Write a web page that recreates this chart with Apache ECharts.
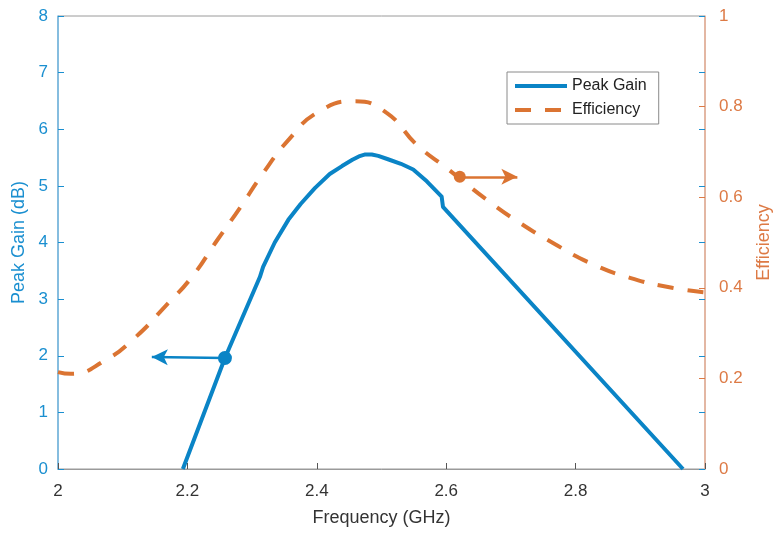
<!DOCTYPE html>
<html lang="en">
<head>
    <meta charset="UTF-8">
    <title>Peak Gain / Efficiency</title>
    <script src="https://cdn.jsdelivr.net/npm/echarts@6/dist/echarts.min.js"></script>
</head>
<body style="margin:0">
<div id="main" style="width:775px;height:536px;"></div>
<script>
    // peak gain (dB) vs frequency (GHz)
    var gainFreq = [2.193, 2.258, 2.312, 2.317, 2.335, 2.356, 2.375, 2.397, 2.42, 2.439, 2.455, 2.465, 2.475, 2.485, 2.495, 2.51, 2.53, 2.549, 2.57, 2.593, 2.595, 2.966];
    var gainVal  = [0, 1.96, 3.39, 3.57, 4.0, 4.40, 4.68, 4.96, 5.21, 5.35, 5.46, 5.52, 5.555, 5.555, 5.53, 5.47, 5.39, 5.29, 5.08, 4.81, 4.63, 0];
    // efficiency vs frequency
    var effFreq = [2.0, 2.02, 2.073, 2.119, 2.165, 2.207, 2.246, 2.281, 2.317, 2.356, 2.402, 2.459, 2.508, 2.555, 2.601, 2.663, 2.714, 2.765, 2.822, 2.884, 2.949, 3.0];
    var effVal  = [0.214, 0.21, 0.24, 0.29, 0.358, 0.424, 0.505, 0.576, 0.653, 0.726, 0.788, 0.812, 0.786, 0.715, 0.664, 0.594, 0.543, 0.499, 0.455, 0.422, 0.40, 0.39];
    var xTicks = [2, 2.2, 2.4, 2.6, 2.8, 3];

    var blue = '#0A84C6', orange = '#DB7432';
    var font = 'Liberation Sans, Arial, sans-serif';

    function pairs(xs, ys) {
        var out = [];
        for (var i = 0; i < xs.length; i++) out.push([xs[i], ys[i]]);
        return out;
    }

    var chart = echarts.init(document.getElementById('main'));
    chart.setOption({
        animation: false,
        textStyle: {fontFamily: font},
        grid: {left: 58, right: 70, top: 16, bottom: 67, outerBoundsMode: 'none', containLabel: false,
            show: true, borderColor: '#9a9a9a', borderWidth: 1},
        legend: {
            left: 507, top: 72, orient: 'vertical',
            backgroundColor: '#fff', borderColor: '#8a8a8a', borderWidth: 1,
            padding: [6, 12, 6, 6], itemGap: 8, itemWidth: 52, itemHeight: 14,
            itemStyle: {opacity: 0},
            lineStyle: {width: 4},
            textStyle: {fontSize: 16, color: '#222', fontFamily: font},
            data: ['Peak Gain', 'Efficiency']
        },
        xAxis: {
            type: 'value', min: 2, max: 3, interval: 0.2,
            name: 'Frequency (GHz)', nameLocation: 'middle', nameGap: 40,
            nameTextStyle: {fontSize: 18, color: '#333'},
            axisLine: {lineStyle: {color: '#9a9a9a'}},
            axisTick: {inside: true, length: 6, lineStyle: {color: '#555'}},
            axisLabel: {fontSize: 17, color: '#333', margin: 14,
                formatter: function (v) { return xTicks.indexOf(+v.toFixed(1)) >= 0 ? String(+v.toFixed(1)) : ''; }},
            splitLine: {show: false}
        },
        yAxis: [{
            type: 'value', min: 0, max: 8, interval: 1, position: 'left',
            name: 'Peak Gain (dB)', nameLocation: 'middle', nameGap: 28,
            nameTextStyle: {fontSize: 18, color: '#1A8FD0'},
            axisLine: {show: true, lineStyle: {color: '#6FB8E6', width: 1.5}},
            axisTick: {show: true, inside: true, length: 6, lineStyle: {color: '#1A8FD0'}},
            axisLabel: {fontSize: 17, color: '#1A8FD0', margin: 10},
            splitLine: {show: false}
        }, {
            type: 'value', min: 0, max: 1, interval: 0.2, position: 'right',
            name: 'Efficiency', nameLocation: 'middle', nameGap: 50,
            nameTextStyle: {fontSize: 18, color: '#DD7A45'},
            axisLine: {show: true, lineStyle: {color: '#EBB096', width: 1.5}},
            axisTick: {show: true, inside: true, length: 6, lineStyle: {color: '#DD7A45'}},
            axisLabel: {fontSize: 17, color: '#DD7A45', margin: 14,
                formatter: function (v) { return v === 0 || v === 1 ? String(v) : v.toFixed(1); }},
            splitLine: {show: false}
        }, {
            // left-axis ticks mirrored on the right side (blue)
            type: 'value', min: 0, max: 8, interval: 1, position: 'right',
            axisLine: {show: false},
            axisTick: {show: true, inside: true, length: 6, lineStyle: {color: '#1A8FD0'}},
            axisLabel: {show: false},
            splitLine: {show: false}
        }],
        series: [{
            name: 'Peak Gain', type: 'line', yAxisIndex: 0,
            data: pairs(gainFreq, gainVal),
            symbol: 'none', smooth: false,
            lineStyle: {color: blue, width: 4, join: 'round'},
            itemStyle: {color: blue},
            markLine: {
                silent: true, animation: false,
                label: {show: false},
                lineStyle: {color: blue, width: 2.5, type: 'solid'},
                data: [[
                    {coord: [2.258, 1.96], symbol: 'circle', symbolSize: 14},
                    {coord: [2.145, 1.98], symbol: 'arrow', symbolSize: [12, 16]}
                ]]
            }
        }, {
            name: 'Efficiency', type: 'line', yAxisIndex: 1,
            data: pairs(effFreq, effVal),
            symbol: 'none', smooth: true,
            lineStyle: {color: orange, width: 4, type: [16, 14]},
            itemStyle: {color: orange},
            markLine: {
                silent: true, animation: false,
                label: {show: false},
                lineStyle: {color: orange, width: 2.5, type: 'solid'},
                data: [[
                    {coord: [2.621, 0.645], symbol: 'circle', symbolSize: 12},
                    {coord: [2.71, 0.645], symbol: 'arrow', symbolSize: [12, 16]}
                ]]
            }
        }]
    });
</script>
</body>
</html>
